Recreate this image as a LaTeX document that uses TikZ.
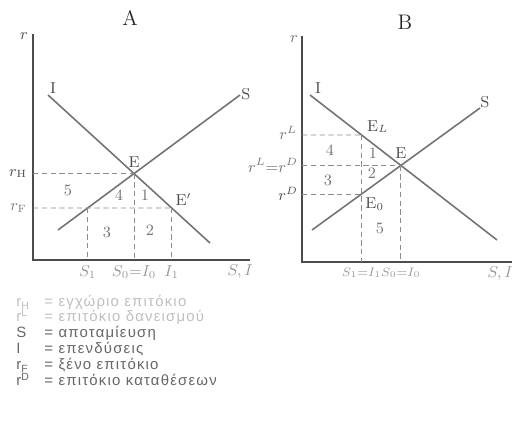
\documentclass[tikz,border=0pt]{standalone}
\usepackage{fontspec}
\newfontfamily\grfont[LetterSpace=8]{Liberation Sans}
\usetikzlibrary{positioning}
\tikzset{
  axis/.style={black!70, line width=1pt},
  curve/.style={black!55, line width=0.9pt},
  guide/.style={black!45, dash pattern=on 3pt off 2pt, line width=0.5pt},
  lbl/.style={text=black!70, font=\small, inner sep=1pt},
  num/.style={text=black!55, font=\small, inner sep=1pt},
  xlbl/.style={text=black!40, font=\small, inner sep=1pt},
  legend/.style={anchor=west, font=\grfont\fontsize{8.5}{10}\selectfont, inner sep=0pt,
    text height=6pt, text depth=1.5pt},
}
\newcommand{\legsym}[1]{\makebox[16pt][l]{#1}}

\begin{document}
\begin{tikzpicture}[x=0.02cm, y=-0.02cm]
  \useasboundingbox (0,0) rectangle (514,431);

  % panel A
  \node[font=\large, text=black!85] (titleA) at (130,18) {A};
  \coordinate (oA) at (33,260);
  \coordinate (yA) at (33,34);
  \coordinate (xA) at (250,260);
  \draw[axis] (yA) -- (oA) -- (xA);
  \node[lbl, anchor=east] (rA) at (30,36) {$r$};
  \coordinate (iA1) at (48,95);
  \coordinate (iA2) at (210,243);
  \coordinate (sA1) at (58,230);
  \coordinate (sA2) at (240,95);
  \draw[curve] (iA1) -- (iA2);
  \draw[curve] (sA1) -- (sA2);
  \node[lbl] (IA) at (53,88) {I};
  \node[lbl] (SA) at (246,94) {S};
  \coordinate (EA) at (intersection of iA1--iA2 and sA1--sA2);
  \coordinate (rFA) at (33,208);
  \coordinate (rFAend) at (250,208);
  \coordinate (EpA) at (intersection of iA1--iA2 and rFA--rFAend);
  \coordinate (S1A) at (intersection of sA1--sA2 and rFA--rFAend);
  \draw[guide] (EA -| oA) -- (EA);
  \draw[guide] (rFA) -- (EpA);
  \draw[guide] (S1A) -- (S1A |- oA);
  \draw[guide] (EA) -- (EA |- oA);
  \draw[guide] (EpA) -- (EpA |- oA);
  \node[lbl, anchor=east] (rHA) at (EA -| 29,0) {$r_{\mathrm{H}}$};
  \node[lbl, anchor=east, text=black!50] (rFlbl) at (29,208) {$r_{\mathrm{F}}$};
  \node[lbl, above=2pt of EA] (EAlbl) {E};
  \node[lbl, anchor=south west] (EpAlbl) at ([xshift=1pt]EpA) {E$'$};
  \node[num] (nA5) at (68,190) {5};
  \node[num] (nA4) at (119,195) {4};
  \node[num] (nA1) at (145,195) {1};
  \node[num] (nA3) at (107,232) {3};
  \node[num] (nA2) at (150,230) {2};
  \node[xlbl, below=2pt of S1A |- oA] (xS1A) {$S_1$};
  \node[xlbl, below=2pt of EA |- oA] (xS0A) {$S_0{=}I_0$};
  \node[xlbl, below=2pt of EpA |- oA] (xI1A) {$I_1$};
  \node[xlbl, anchor=north] (xSIA) at (240,263) {$S,I$};

  % panel B
  \node[font=\large, text=black!85] (titleB) at (405,22) {B};
  \coordinate (oB) at (302,262);
  \coordinate (yB) at (302,36);
  \coordinate (xB) at (512,262);
  \draw[axis] (yB) -- (oB) -- (xB);
  \node[lbl, anchor=east, text=black!55] (rB) at (300,39) {$r$};
  \coordinate (iB1) at (310,95);
  \coordinate (iB2) at (497,240);
  \coordinate (sB1) at (312,230);
  \coordinate (sB2) at (480,108);
  \draw[curve] (iB1) -- (iB2);
  \draw[curve] (sB1) -- (sB2);
  \node[lbl] (IB) at (318,88) {I};
  \node[lbl] (SB) at (485,102) {S};
  \coordinate (EB) at (intersection of iB1--iB2 and sB1--sB2);
  \coordinate (rLB) at (302,135);
  \coordinate (rLBend) at (512,135);
  \coordinate (ELB) at (intersection of iB1--iB2 and rLB--rLBend);
  \coordinate (E0top) at (ELB |- 0,100);
  \coordinate (E0B) at (intersection of sB1--sB2 and ELB--E0top);
  \draw[guide] (rLB) -- (ELB);
  \draw[guide] (EB -| oB) -- (EB);
  \draw[guide] (E0B -| oB) -- (E0B);
  \draw[guide] (ELB) -- (ELB |- oB);
  \draw[guide] (EB) -- (EB |- oB);
  \node[lbl, anchor=east, text=black!55] (rLlbl) at (299,133) {$r^{L}$};
  \node[lbl, anchor=east, text=black!55] (rLDlbl) at (EB -| 300,0) {$r^{L}{=}r^{D}$};
  \node[lbl, anchor=east] (rDlbl) at (E0B -| 300,0) {$r^{D}$};
  \node[lbl, anchor=south west] (ELlbl) at ([xshift=2pt]ELB) {E$_L$};
  \node[lbl, above=3pt of EB] (EBlbl) {E};
  \node[lbl, anchor=north west] (E0lbl) at ([xshift=1pt,yshift=-1pt]E0B) {E$_0$};
  \node[num] (nB4) at (330,150) {4};
  \node[num] (nB3) at (328,180) {3};
  \node[num] (nB1) at (373,153) {1};
  \node[num] (nB2) at (372,173) {2};
  \node[num] (nB5) at (380,228) {5};
  \node[xlbl, font=\scriptsize, below=2pt of ELB |- oB] (xS1B) {$S_1{=}I_1$};
  \node[xlbl, font=\scriptsize, below=2pt of EB |- oB] (xS0B) {$S_0{=}I_0$};
  \node[xlbl, anchor=north] (xSIB) at (500,265) {$S,I$};

  % legend
  \node[legend, text=black!25] (leg1) at (16,303) {\legsym{r\textsubscript{H}}= εγχώριο επιτόκιο};
  \node[legend, text=black!25] (leg2) at (16,318) {\legsym{r\textsuperscript{L}}= επιτόκιο δανεισμού};
  \node[legend, text=black!60] (leg3) at (16,334) {\legsym{S}= αποταμίευση};
  \node[legend, text=black!60] (leg4) at (16,350) {\legsym{I}= επενδύσεις};
  \node[legend, text=black!60] (leg5) at (16,366) {\legsym{r\textsubscript{F}}= ξένο επιτόκιο};
  \node[legend, text=black!60] (leg6) at (16,382) {\legsym{r\textsuperscript{D}}= επιτόκιο καταθέσεων};
\end{tikzpicture}
\end{document}
